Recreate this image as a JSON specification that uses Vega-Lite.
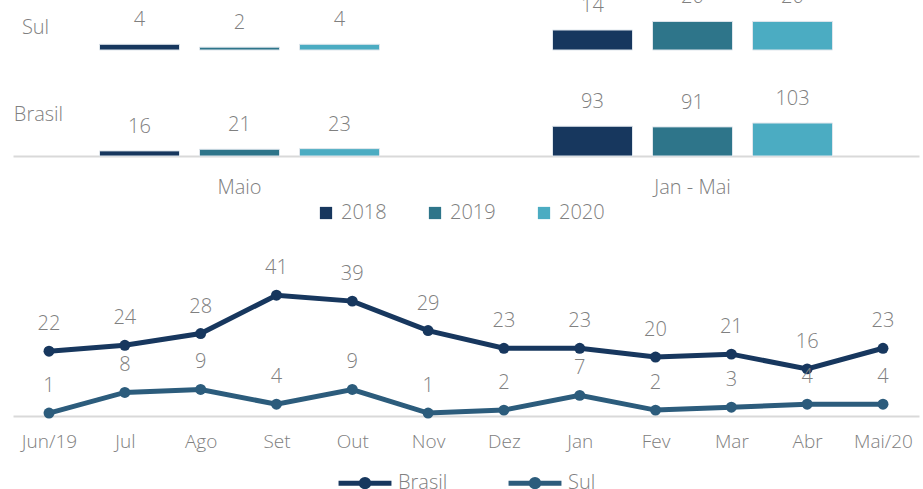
{
  "$schema": "https://vega.github.io/schema/vega-lite/v6.json",
  "padding": {"left": 13, "top": 0, "right": 4, "bottom": 0},
  "background": "white",
  "config": {
    "font": "Open Sans",
    "view": {"stroke": null},
    "text": {"font": "Open Sans", "fontWeight": 300},
    "axis": {"labelFont": "Open Sans", "titleFont": "Open Sans"},
    "legend": {"labelFont": "Open Sans", "layout": {"bottom": {"anchor": "middle"}}}
  },
  "datasets": {
    "bars": [
      {"region": "Sul", "period": "Maio", "year": "2018", "value": 4},
      {"region": "Sul", "period": "Maio", "year": "2019", "value": 2},
      {"region": "Sul", "period": "Maio", "year": "2020", "value": 4},
      {"region": "Sul", "period": "Jan - Mai", "year": "2018", "value": 14},
      {"region": "Sul", "period": "Jan - Mai", "year": "2019", "value": 20},
      {"region": "Sul", "period": "Jan - Mai", "year": "2020", "value": 20},
      {"region": "Brasil", "period": "Maio", "year": "2018", "value": 16},
      {"region": "Brasil", "period": "Maio", "year": "2019", "value": 21},
      {"region": "Brasil", "period": "Maio", "year": "2020", "value": 23},
      {"region": "Brasil", "period": "Jan - Mai", "year": "2018", "value": 93},
      {"region": "Brasil", "period": "Jan - Mai", "year": "2019", "value": 91},
      {"region": "Brasil", "period": "Jan - Mai", "year": "2020", "value": 103}
    ],
    "lines": [
      {"month": "Jun/19", "series": "Brasil", "value": 22},
      {"month": "Jul", "series": "Brasil", "value": 24},
      {"month": "Ago", "series": "Brasil", "value": 28},
      {"month": "Set", "series": "Brasil", "value": 41},
      {"month": "Out", "series": "Brasil", "value": 39},
      {"month": "Nov", "series": "Brasil", "value": 29},
      {"month": "Dez", "series": "Brasil", "value": 23},
      {"month": "Jan", "series": "Brasil", "value": 23},
      {"month": "Fev", "series": "Brasil", "value": 20},
      {"month": "Mar", "series": "Brasil", "value": 21},
      {"month": "Abr", "series": "Brasil", "value": 16},
      {"month": "Mai/20", "series": "Brasil", "value": 23},
      {"month": "Jun/19", "series": "Sul", "value": 1},
      {"month": "Jul", "series": "Sul", "value": 8},
      {"month": "Ago", "series": "Sul", "value": 9},
      {"month": "Set", "series": "Sul", "value": 4},
      {"month": "Out", "series": "Sul", "value": 9},
      {"month": "Nov", "series": "Sul", "value": 1},
      {"month": "Dez", "series": "Sul", "value": 2},
      {"month": "Jan", "series": "Sul", "value": 7},
      {"month": "Fev", "series": "Sul", "value": 2},
      {"month": "Mar", "series": "Sul", "value": 3},
      {"month": "Abr", "series": "Sul", "value": 4},
      {"month": "Mai/20", "series": "Sul", "value": 4}
    ]
  },
  "resolve": {"scale": {"color": "independent", "x": "independent", "y": "independent"}},
  "spacing": 31,
  "vconcat": [
    {
      "spacing": 25,
      "resolve": {"scale": {"y": "independent"}},
      "vconcat": [
        {
          "data": {"name": "bars"},
          "transform": [{"filter": "datum.region === 'Sul'"}],
          "width": 906,
          "height": 50,
          "encoding": {
            "x": {"field": "period", "type": "nominal", "sort": ["Maio", "Jan - Mai"], "scale": {"paddingInner": 0, "paddingOuter": 0}, "axis": null},
            "xOffset": {"field": "year", "type": "nominal", "scale": {"paddingInner": 0.2, "paddingOuter": 0.865}},
            "y": {"field": "value", "type": "quantitative", "scale": {"domain": [0, 35]},
              "axis": {"labels": false, "ticks": false, "domain": false, "grid": false, "title": "Sul", "titleAngle": 0, "titleX": 22, "titleY": 27, "titleAlign": "center", "titleBaseline": "middle", "titleFontSize": 20, "titleFontWeight": 300, "titleColor": "#808080"}}
          },
          "layer": [
            {"mark": {"type": "bar", "stroke": "#dfe6ec", "strokeWidth": 1},
             "encoding": {"color": {"field": "year", "type": "nominal", "scale": {"domain": ["2018", "2019", "2020"], "range": ["#17375e", "#2e758a", "#4bacc2"]},
               "legend": {"title": null, "orient": "none", "legendX": 303, "legendY": 203, "direction": "horizontal", "symbolType": "square", "symbolSize": 150, "symbolStrokeWidth": 0, "labelFontSize": 20, "labelColor": "#808080", "labelFontWeight": 300, "columnPadding": 38, "labelOffset": 5}}}},
            {"mark": {"type": "text", "baseline": "alphabetic", "dy": -18, "fontSize": 20, "color": "#808080", "clip": true},
             "encoding": {"text": {"field": "value", "type": "quantitative"}}}
          ]
        },
        {
          "data": {"name": "bars"},
          "transform": [{"filter": "datum.region === 'Brasil'"}],
          "width": 906,
          "height": 80,
          "encoding": {
            "x": {"field": "period", "type": "nominal", "sort": ["Maio", "Jan - Mai"], "scale": {"paddingInner": 0, "paddingOuter": 0},
              "axis": {"title": null, "labelAngle": 0, "ticks": false, "domainColor": "#d9d9d9", "domainWidth": 2, "labelFontSize": 20, "labelColor": "#808080", "labelFontWeight": 300, "labelPadding": 21}},
            "xOffset": {"field": "year", "type": "nominal", "scale": {"paddingInner": 0.2, "paddingOuter": 0.865}},
            "y": {"field": "value", "type": "quantitative", "scale": {"domain": [0, 250]},
              "axis": {"labels": false, "ticks": false, "domain": false, "grid": false, "title": "Brasil", "titleAngle": 0, "titleX": 25, "titleY": 38, "titleAlign": "center", "titleBaseline": "middle", "titleFontSize": 20, "titleFontWeight": 300, "titleColor": "#808080"}}
          },
          "layer": [
            {"mark": {"type": "bar", "stroke": "#dfe6ec", "strokeWidth": 1},
             "encoding": {"color": {"field": "year", "type": "nominal", "scale": {"domain": ["2018", "2019", "2020"], "range": ["#17375e", "#2e758a", "#4bacc2"]}}}},
            {"mark": {"type": "text", "baseline": "alphabetic", "dy": -18, "fontSize": 20, "color": "#808080"},
             "encoding": {"text": {"field": "value", "type": "quantitative"}}}
          ]
        }
      ]
    },
    {
      "data": {"name": "lines"},
      "width": 906,
      "height": 162,
      "encoding": {
        "x": {"field": "month", "type": "nominal", "sort": null, "scale": {"type": "point", "padding": 0.475},
          "axis": {"title": null, "labelAngle": 0, "ticks": false, "domainColor": "#d9d9d9", "domainWidth": 2, "labelFontSize": 19, "labelColor": "#808080", "labelFontWeight": 300, "labelPadding": 16}},
        "y": {"field": "value", "type": "quantitative", "scale": {"domain": [0, 55]}, "axis": null}
      },
      "layer": [
        {"mark": {"type": "line", "strokeWidth": 5},
         "encoding": {"color": {"field": "series", "type": "nominal", "scale": {"domain": ["Brasil", "Sul"], "range": ["#17375e", "#2c5c7c"]},
          "legend": {"title": null, "orient": "bottom", "offset": 3, "direction": "horizontal", "symbolType": "M-1,0H1M-0.14,0a0.14,0.14 0 1,0 0.28,0a0.14,0.14 0 1,0 -0.28,0", "symbolSize": 2800, "symbolStrokeWidth": 5, "labelFontSize": 20, "labelColor": "#808080", "labelFontWeight": 300, "labelOffset": 4, "columnPadding": 50}}}},
        {"mark": {"type": "point", "filled": true, "size": 120, "opacity": 1},
         "encoding": {"color": {"field": "series", "type": "nominal"}}},
        {"mark": {"type": "text", "baseline": "alphabetic", "dy": -21, "fontSize": 20, "color": "#808080"},
         "encoding": {"text": {"field": "value", "type": "quantitative"}}}
      ]
    }
  ]
}
